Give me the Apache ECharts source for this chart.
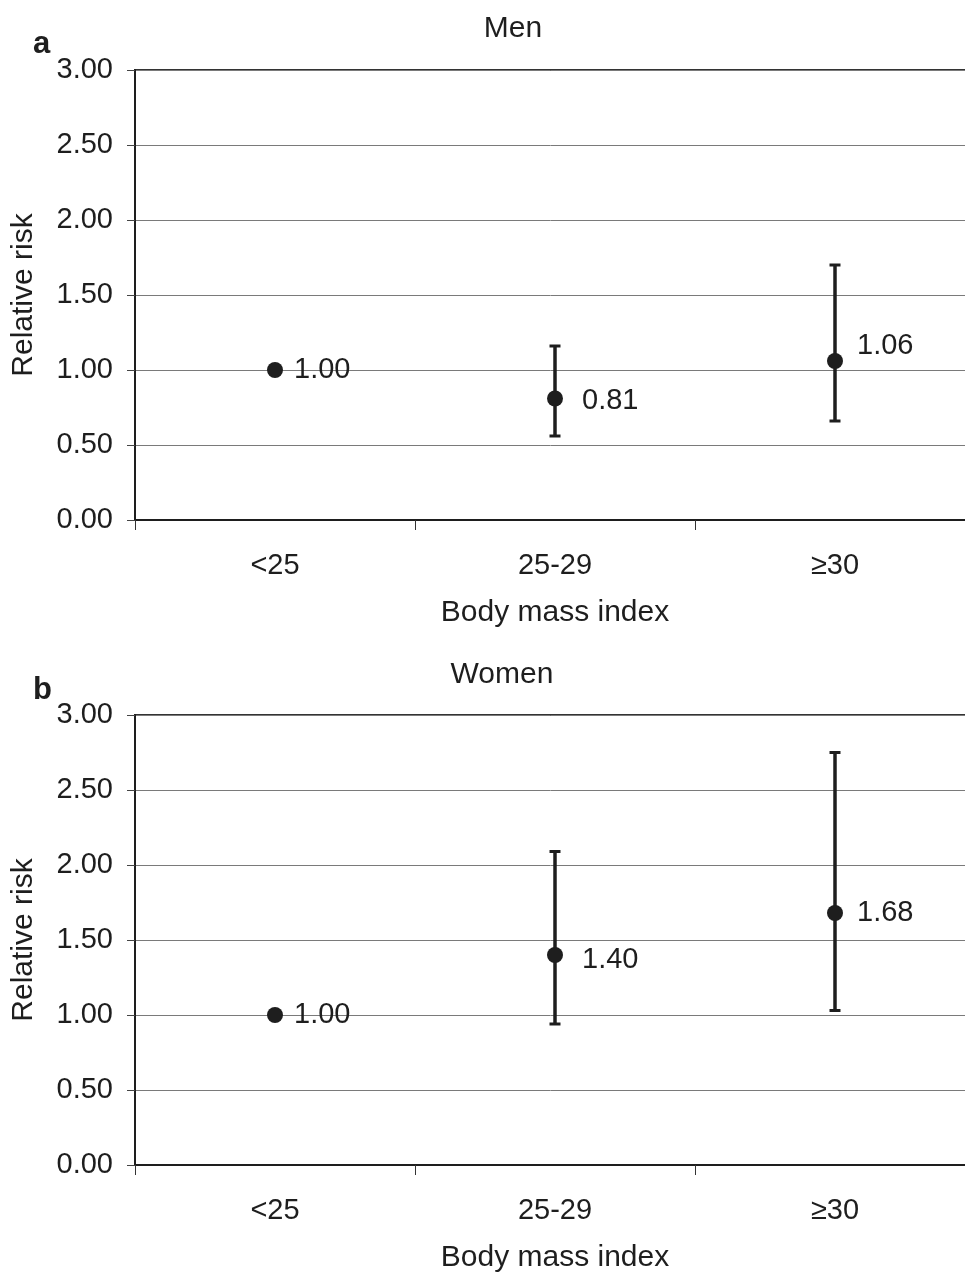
<!DOCTYPE html>
<html>
<head>
<meta charset="utf-8">
<script src="https://cdn.jsdelivr.net/npm/echarts@6/dist/echarts.min.js"></script>
<style>html,body{margin:0;padding:0;background:#fff;}#c{width:965px;height:1274px;}</style>
</head>
<body>
<div id="c"></div>
<script>
const categories = ['<25', '25-29', '≥30'];
const yTicks = [0, 0.5, 1, 1.5, 2, 2.5, 3];
const menRR = [1.00, 0.81, 1.06];
const menLow = [null, 0.56, 0.66];
const menHigh = [null, 1.16, 1.70];
const womenRR = [1.00, 1.40, 1.68];
const womenLow = [null, 0.94, 1.03];
const womenHigh = [null, 2.09, 2.75];
const menLabelOff = [[1, 0], [9, 2], [4, -15]];
const womenLabelOff = [[1, 0], [9, 5], [4, 0]];

const FONT = '"Liberation Sans", Arial, sans-serif';
const INK = '#1e1e1e';
const chart = echarts.init(document.getElementById('c'));

function xAxis(gi) {
  return {
    type: 'category', gridIndex: gi, data: categories, boundaryGap: true,
    axisLine: { lineStyle: { color: INK, width: 2 } },
    axisTick: { show: true, length: 10, lineStyle: { color: '#333', width: 1 } },
    axisLabel: { fontFamily: FONT, fontSize: 29, color: INK, margin: 31 },
    name: 'Body mass index', nameLocation: 'middle', nameGap: 78,
    nameTextStyle: { fontFamily: FONT, fontSize: 30, color: INK }
  };
}
function yAxis(gi) {
  return {
    type: 'value', gridIndex: gi, min: 0, max: 3, interval: 0.5,
    axisLine: { show: true, lineStyle: { color: INK, width: 2 } },
    axisTick: { show: true, length: 8, lineStyle: { color: '#444' } },
    axisLabel: { fontFamily: FONT, fontSize: 29, color: INK, margin: 22,
      formatter: v => v.toFixed(2) },
    splitLine: { show: true, lineStyle: { color: '#7a7a7a', width: 1 } },
    name: 'Relative risk', nameLocation: 'middle', nameGap: 96, nameRotate: 90,
    nameTextStyle: { fontFamily: FONT, fontSize: 30, color: INK }
  };
}
function pointSeries(gi, vals, offs) {
  return {
    type: 'scatter', xAxisIndex: gi, yAxisIndex: gi, symbol: 'circle', symbolSize: 16,
    itemStyle: { color: INK, opacity: 1 }, z: 5,
    emphasis: { disabled: true },
    data: vals.map((v, i) => ({
      value: [categories[i], v],
      label: { show: true, position: 'right', distance: 10, offset: offs[i],
        formatter: v.toFixed(2), fontFamily: FONT, fontSize: 29, color: INK }
    }))
  };
}
function errSeries(gi, lows, highs) {
  const data = [];
  lows.forEach((l, i) => { if (l != null) data.push([i, l, highs[i]]); });
  return {
    type: 'custom', xAxisIndex: gi, yAxisIndex: gi, z: 4,
    renderItem: (params, api) => {
      const x = api.value(0);
      const lo = api.coord([x, api.value(1)]);
      const hi = api.coord([x, api.value(2)]);
      const st = { stroke: INK, lineWidth: 3.5 };
      const cst = { stroke: INK, lineWidth: 3 };
      const cw = 5.5;
      return { type: 'group', children: [
        { type: 'line', shape: { x1: lo[0], y1: lo[1], x2: hi[0], y2: hi[1] }, style: st },
        { type: 'line', shape: { x1: lo[0]-cw, y1: lo[1], x2: lo[0]+cw, y2: lo[1] }, style: cst },
        { type: 'line', shape: { x1: hi[0]-cw, y1: hi[1], x2: hi[0]+cw, y2: hi[1] }, style: cst }
      ]};
    },
    data: data
  };
}

chart.setOption({
  animation: false,
  title: [
    { text: 'Men', left: 508, top: 9, textAlign: 'center',
      textStyle: { fontFamily: FONT, fontSize: 30, fontWeight: 'normal', color: INK } },
    { text: 'Women', left: 497, top: 655, textAlign: 'center',
      textStyle: { fontFamily: FONT, fontSize: 30, fontWeight: 'normal', color: INK } },
    { text: 'a', left: 28, top: 24,
      textStyle: { fontFamily: FONT, fontSize: 31, fontWeight: 'bold', color: INK } },
    { text: 'b', left: 28, top: 670,
      textStyle: { fontFamily: FONT, fontSize: 31, fontWeight: 'bold', color: INK } }
  ],
  grid: [
    { left: 135, top: 70, width: 840, height: 450, containLabel: false, outerBoundsMode: 'none',
      show: true, borderColor: '#333', borderWidth: 2, backgroundColor: 'transparent' },
    { left: 135, top: 715, width: 840, height: 450, containLabel: false, outerBoundsMode: 'none',
      show: true, borderColor: '#333', borderWidth: 2, backgroundColor: 'transparent' }
  ],
  xAxis: [xAxis(0), xAxis(1)],
  yAxis: [yAxis(0), yAxis(1)],
  series: [
    errSeries(0, menLow, menHigh),
    pointSeries(0, menRR, menLabelOff),
    errSeries(1, womenLow, womenHigh),
    pointSeries(1, womenRR, womenLabelOff)
  ]
});
</script>
</body>
</html>
